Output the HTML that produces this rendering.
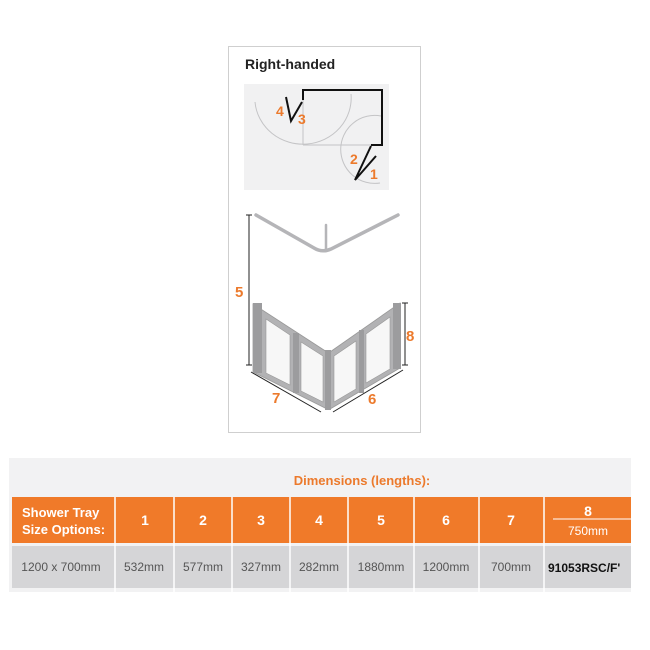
<!DOCTYPE html>
<html><head><meta charset="utf-8"><style>
body{margin:0;width:650px;height:650px;background:#fff;font-family:"Liberation Sans",sans-serif;position:relative;overflow:hidden}
</style></head><body>
<svg width="650" height="650" style="position:absolute;left:0;top:0" font-family="Liberation Sans, sans-serif">
<rect x="228.5" y="46.5" width="192" height="386" fill="#fff" stroke="#cfcfcf"/>
<text x="245" y="69" font-size="14" font-weight="bold" fill="#222">Right-handed</text>
<rect x="244" y="84" width="145" height="106" fill="#f1f1f2"/>
<g fill="none" stroke="#c4c4c6" stroke-width="1">
<path d="M255,102 A48,46 0 0 0 351,94"/>
<line x1="303" y1="100" x2="303" y2="145"/><line x1="303" y1="145" x2="371" y2="145"/>
<path d="M381,116 A34,34 0 1 0 380,183"/>
</g>
<g fill="none" stroke="#111" stroke-width="2">
<polyline points="303,100 303,90 382,90 382,145 371,145"/>
<polyline points="286,97 291,121 302,102"/>
<polyline points="371,146 355,180 376,156"/>
</g>
<g fill="#ec7a2c" font-weight="bold" font-size="14">
<text x="276" y="116">4</text><text x="298" y="124">3</text><text x="350" y="164">2</text><text x="370" y="179">1</text>
</g>
<g fill="none" stroke="#b5b5b8" stroke-width="3.5" stroke-linecap="round">
<path d="M256,215 L314,248 Q322,253 331,249 L398,215"/>
<line x1="326" y1="225" x2="326" y2="251" stroke-width="2.5"/>
</g>
<g stroke="#222" stroke-width="1">
<line x1="249" y1="215" x2="249" y2="365"/><line x1="246" y1="215" x2="252" y2="215"/><line x1="246" y1="365" x2="252" y2="365"/>
<line x1="405" y1="303" x2="405" y2="365"/><line x1="402" y1="303" x2="408" y2="303"/><line x1="402" y1="365" x2="408" y2="365"/>
<line x1="251" y1="372" x2="321" y2="412"/><line x1="333" y1="412" x2="403" y2="370"/>
</g>
<polygon points="253,304 327,352 327,409 253,372" fill="#b2b2b4" stroke="#999" stroke-width="0.8"/>
<polygon points="330,352 400,303 400,368 330,409" fill="#b2b2b4" stroke="#999" stroke-width="0.8"/>
<g fill="#f7f7f7" stroke="#999" stroke-width="0.6">
<polygon points="266,319 290,335 290,385 266,373"/>
<polygon points="301,342 323,356 323,402 301,391"/>
<polygon points="334,356 356,341 356,389 334,402"/>
<polygon points="366,334 390,317 390,369 366,383"/>
</g>
<g fill="#9c9c9e">
<rect x="253" y="303" width="9" height="70"/><rect x="293" y="333" width="6" height="60"/>
<rect x="325" y="350" width="6" height="60"/><rect x="359" y="330" width="5" height="63"/>
<rect x="393" y="303" width="8" height="66"/>
</g>
<g fill="#ec7a2c" font-weight="bold" font-size="15">
<text x="235" y="297">5</text><text x="406" y="341">8</text><text x="272" y="403">7</text><text x="368" y="404">6</text>
</g>
<rect x="9" y="458" width="622" height="134" fill="#f2f2f3"/>
<text x="362" y="485" font-size="13" font-weight="bold" fill="#ec7a2c" text-anchor="middle">Dimensions (lengths):</text>
<rect x="12" y="497" width="619" height="46" fill="#f07a29"/>
<rect x="12" y="546" width="619" height="42" fill="#d5d5d7"/>
<g stroke="#fff" stroke-width="1.5">
<line x1="115" y1="497" x2="115" y2="592"/><line x1="174" y1="497" x2="174" y2="592"/><line x1="232" y1="497" x2="232" y2="592"/><line x1="290" y1="497" x2="290" y2="592"/><line x1="348" y1="497" x2="348" y2="592"/><line x1="414" y1="497" x2="414" y2="592"/><line x1="479" y1="497" x2="479" y2="592"/><line x1="544" y1="497" x2="544" y2="592"/>
<line x1="553" y1="519" x2="631" y2="519" stroke-width="1"/>
</g>
<g fill="#fff" font-size="13" font-weight="bold">
<text x="22" y="517">Shower Tray</text><text x="22" y="534">Size Options:</text>
</g>
<g fill="#fff" font-size="14" font-weight="bold" text-anchor="middle">
<text x="145" y="525">1</text><text x="203" y="525">2</text><text x="261" y="525">3</text><text x="319" y="525">4</text><text x="381" y="525">5</text><text x="446" y="525">6</text><text x="511" y="525">7</text><text x="588" y="516">8</text>
</g>
<text x="588" y="535" fill="#fff" font-size="12" text-anchor="middle">750mm</text>
<g fill="#555" font-size="12" text-anchor="middle">
<text x="61" y="571">1200 x 700mm</text><text x="144" y="571">532mm</text><text x="203" y="571">577mm</text><text x="261" y="571">327mm</text><text x="319" y="571">282mm</text><text x="381" y="571">1880mm</text><text x="446" y="571">1200mm</text><text x="511" y="571">700mm</text>
</g>
<text x="548" y="572" fill="#111" font-size="12" font-weight="bold">91053RSC/F'</text>
</svg>
</body></html>
